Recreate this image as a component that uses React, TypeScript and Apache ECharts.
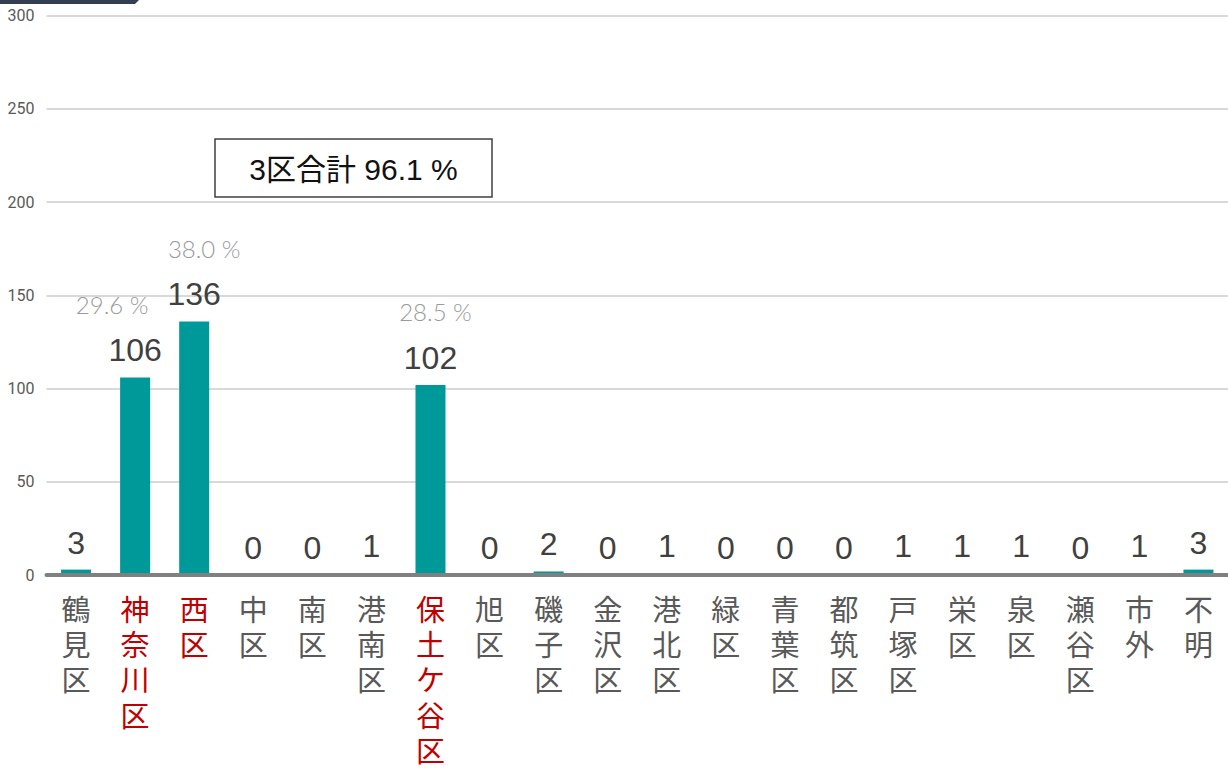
import React, { useEffect, useRef } from "react";
import * as echarts from "echarts";

const categories = ["鶴見区", "神奈川区", "西区", "中区", "南区", "港南区", "保土ケ谷区", "旭区", "磯子区", "金沢区", "港北区", "緑区", "青葉区", "都筑区", "戸塚区", "栄区", "泉区", "瀬谷区", "市外", "不明"];
const values = [3, 106, 136, 0, 0, 1, 102, 0, 2, 0, 1, 0, 0, 0, 1, 1, 1, 0, 1, 3];
const highlighted = ["神奈川区", "西区", "保土ケ谷区"];
const percentLabels: Record<string, string> = { "神奈川区": "29.6 %", "西区": "38.0 %", "保土ケ谷区": "28.5 %" };
const boxText = "3区合計 96.1 %";
const yTicks = [0, 50, 100, 150, 200, 250, 300];

// horizontal nudge (px) of the percent labels, as placed in the original
const percentShift: Record<string, number> = { "神奈川区": -23, "西区": 10, "保土ケ谷区": 5 };

export default function App() {
  const ref = useRef<HTMLDivElement>(null);
  useEffect(() => {
    const chart = echarts.init(ref.current!, null, { renderer: "svg" });
    const pStyle = { fontSize: 24, color: "#9a9a9a", fontFamily: "Lato, sans-serif", fontWeight: 300, lineHeight: 40, verticalAlign: "top" };
    const data = values.map((v, i) => {
      const cat = categories[i];
      const pct = percentLabels[cat];
      if (!pct) return { value: v, label: { formatter: `{v|${v}}` } };
      const s = percentShift[cat] || 0;
      const padding = s < 0 ? [0, -2 * s, 0, 0] : [0, 0, 0, 2 * s];
      return {
        value: v,
        label: {
          formatter: `{p|${pct}}\n{v|${v}}`,
          rich: {
            v: { fontSize: 32, color: "#404040", fontFamily: "Liberation Sans, Arial, sans-serif", lineHeight: 36 },
            p: { ...pStyle, padding },
          },
        },
      };
    });
    chart.setOption({
      animation: false,
      backgroundColor: "#ffffff",
      grid: { left: 46.5, right: 0, top: 15.5, bottom: 193.8, containLabel: false },
      xAxis: {
        type: "category",
        data: categories,
        axisLine: { show: true, lineStyle: { color: "#808080", width: 4 } },
        axisTick: { show: false },
        axisLabel: {
          interval: 0,
          margin: 15,
          formatter: (val: string) => {
            const txt = val.split("").join("\n");
            return highlighted.includes(val) ? `{r|${txt}}` : `{g|${txt}}`;
          },
          rich: {
            g: { color: "#595959", fontSize: 29, lineHeight: 35.3, fontFamily: "Noto Sans CJK JP" },
            r: { color: "#c00000", fontSize: 29, lineHeight: 35.3, fontFamily: "Noto Sans CJK JP" },
          },
          verticalAlign: "top",
        },
      },
      yAxis: {
        type: "value",
        min: 0,
        max: 300,
        interval: 50,
        axisLine: { show: false },
        axisTick: { show: false },
        splitLine: { lineStyle: { color: "#d9d9d9", width: 2 } },
        axisLabel: {
          color: "#595959",
          fontSize: 16,
          margin: 12,
          fontFamily: "Liberation Sans Narrow, Roboto, sans-serif",
          formatter: (v: number) => (yTicks.includes(v) ? String(v) : ""),
        },
      },
      series: [
        {
          type: "bar",
          data,
          barWidth: 30,
          itemStyle: { color: "#009999" },
          label: {
            show: true,
            position: "top",
            distance: 9,
            rich: {
              v: { fontSize: 32, color: "#404040", fontFamily: "Liberation Sans, Arial, sans-serif", lineHeight: 36 },
              p: pStyle,
            },
          },
          markLine: {
            silent: true,
            symbol: "none",
            label: { show: false },
            lineStyle: { color: "#808080", width: 4, type: "solid" },
            data: [{ yAxis: 0 }],
          },
        },
      ],
      graphic: [
        {
          type: "polygon",
          shape: { points: [[0, 0], [139, 0], [135, 4], [0, 4]] },
          style: { fill: "#333f50" },
        },
        {
          type: "rect",
          shape: { x: 215, y: 139, width: 277, height: 58 },
          style: { fill: "#ffffff", stroke: "#404040", lineWidth: 1.5 },
        },
        {
          type: "text",
          x: 353.5,
          y: 169,
          style: {
            text: boxText,
            fontSize: 30,
            fill: "#111111",
            fontFamily: "Liberation Sans, Noto Sans CJK JP, sans-serif",
            align: "center",
            verticalAlign: "middle",
          },
        },
      ],
    });
    return () => chart.dispose();
  }, []);
  return <div ref={ref} style={{ position: "fixed", left: 0, top: 0, width: 1228, height: 769 }} />;
}
